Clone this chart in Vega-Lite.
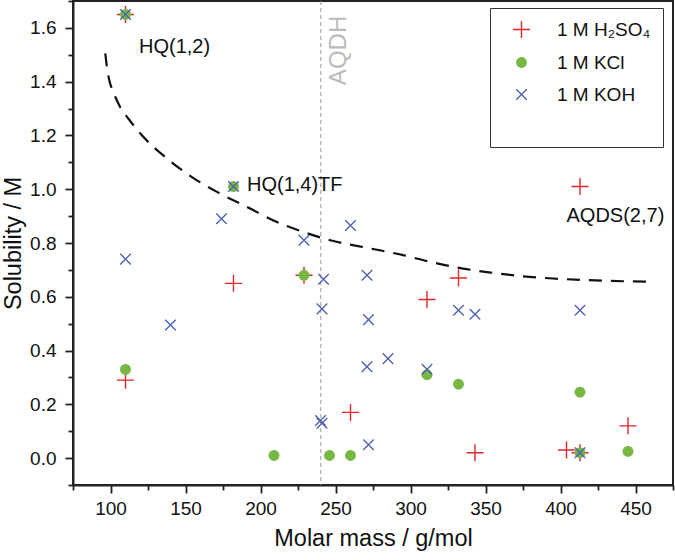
{
  "$schema": "https://vega.github.io/schema/vega-lite/v6.json",
  "width": 600,
  "height": 484,
  "autosize": {"type": "none"},
  "padding": {"left": 73, "top": 1, "right": 2, "bottom": 75},
  "background": "white",
  "config": {
    "font": "Liberation Sans",
    "view": {"stroke": "#222", "strokeWidth": 2},
    "axis": {
      "grid": false,
      "domainColor": "#222",
      "domainWidth": 2,
      "tickColor": "#222",
      "tickWidth": 1.8,
      "labelFont": "Liberation Sans",
      "labelFontSize": 19,
      "labelColor": "#111",
      "titleFont": "Liberation Sans",
      "titleFontSize": 23.5,
      "titleFontWeight": "normal",
      "titleColor": "#111"
    },
    "legend": {
      "labelFont": "Liberation Sans",
      "labelFontSize": 19,
      "labelColor": "#111",
      "titleFont": "Liberation Sans"
    }
  },
  "datasets": {
    "points": [
      {"mass": 110, "sol": 1.65, "series": "1 M H₂SO₄"},
      {"mass": 110, "sol": 0.29, "series": "1 M H₂SO₄"},
      {"mass": 182, "sol": 0.65, "series": "1 M H₂SO₄"},
      {"mass": 229, "sol": 0.68, "series": "1 M H₂SO₄"},
      {"mass": 260, "sol": 0.17, "series": "1 M H₂SO₄"},
      {"mass": 311, "sol": 0.59, "series": "1 M H₂SO₄"},
      {"mass": 332, "sol": 0.67, "series": "1 M H₂SO₄"},
      {"mass": 343, "sol": 0.02, "series": "1 M H₂SO₄"},
      {"mass": 404, "sol": 0.03, "series": "1 M H₂SO₄"},
      {"mass": 413, "sol": 1.01, "series": "1 M H₂SO₄"},
      {"mass": 413, "sol": 0.02, "series": "1 M H₂SO₄"},
      {"mass": 445, "sol": 0.12, "series": "1 M H₂SO₄"},
      {"mass": 110, "sol": 1.65, "series": "1 M KCl"},
      {"mass": 110, "sol": 0.33, "series": "1 M KCl"},
      {"mass": 182, "sol": 1.01, "series": "1 M KCl"},
      {"mass": 209, "sol": 0.01, "series": "1 M KCl"},
      {"mass": 229, "sol": 0.68, "series": "1 M KCl"},
      {"mass": 246, "sol": 0.01, "series": "1 M KCl"},
      {"mass": 260, "sol": 0.01, "series": "1 M KCl"},
      {"mass": 311, "sol": 0.31, "series": "1 M KCl"},
      {"mass": 332, "sol": 0.275, "series": "1 M KCl"},
      {"mass": 413, "sol": 0.245, "series": "1 M KCl"},
      {"mass": 413, "sol": 0.02, "series": "1 M KCl"},
      {"mass": 445, "sol": 0.025, "series": "1 M KCl"},
      {"mass": 110, "sol": 1.65, "series": "1 M KOH"},
      {"mass": 110, "sol": 0.74, "series": "1 M KOH"},
      {"mass": 140, "sol": 0.495, "series": "1 M KOH"},
      {"mass": 174, "sol": 0.89, "series": "1 M KOH"},
      {"mass": 182, "sol": 1.01, "series": "1 M KOH"},
      {"mass": 229, "sol": 0.81, "series": "1 M KOH"},
      {"mass": 242, "sol": 0.665, "series": "1 M KOH"},
      {"mass": 241, "sol": 0.555, "series": "1 M KOH"},
      {"mass": 240, "sol": 0.14, "series": "1 M KOH"},
      {"mass": 241, "sol": 0.13, "series": "1 M KOH"},
      {"mass": 260, "sol": 0.865, "series": "1 M KOH"},
      {"mass": 271, "sol": 0.68, "series": "1 M KOH"},
      {"mass": 272, "sol": 0.515, "series": "1 M KOH"},
      {"mass": 271, "sol": 0.34, "series": "1 M KOH"},
      {"mass": 285, "sol": 0.37, "series": "1 M KOH"},
      {"mass": 272, "sol": 0.05, "series": "1 M KOH"},
      {"mass": 311, "sol": 0.33, "series": "1 M KOH"},
      {"mass": 332, "sol": 0.55, "series": "1 M KOH"},
      {"mass": 343, "sol": 0.535, "series": "1 M KOH"},
      {"mass": 413, "sol": 0.55, "series": "1 M KOH"},
      {"mass": 413, "sol": 0.02, "series": "1 M KOH"}
    ],
    "curve": [
      {"mass": 96.5, "sol": 1.505},
      {"mass": 97.5, "sol": 1.46},
      {"mass": 99, "sol": 1.41},
      {"mass": 102, "sol": 1.36},
      {"mass": 106.5, "sol": 1.305},
      {"mass": 112, "sol": 1.262},
      {"mass": 122, "sol": 1.194},
      {"mass": 137.7, "sol": 1.114},
      {"mass": 154.3, "sol": 1.045},
      {"mass": 171, "sol": 0.99},
      {"mass": 191, "sol": 0.934},
      {"mass": 211, "sol": 0.878},
      {"mass": 228.7, "sol": 0.841},
      {"mass": 246.5, "sol": 0.81},
      {"mass": 273, "sol": 0.78},
      {"mass": 295, "sol": 0.755},
      {"mass": 313, "sol": 0.73},
      {"mass": 335, "sol": 0.705},
      {"mass": 355, "sol": 0.689},
      {"mass": 373, "sol": 0.677},
      {"mass": 395, "sol": 0.668},
      {"mass": 418, "sol": 0.662},
      {"mass": 457, "sol": 0.656}
    ],
    "labels": [
      {"mass": 119, "sol": 1.53, "label": "HQ(1,2)"},
      {"mass": 191, "sol": 1.015, "label": "HQ(1,4)TF"},
      {"mass": 404, "sol": 0.9, "label": "AQDS(2,7)"}
    ],
    "aqdh": [
      {"mass": 240.2, "sol": 1.645, "label": "AQDH", "lx": 252}
    ]
  },
  "layer": [
    {
      "data": {"name": "aqdh"},
      "mark": {"type": "rule", "color": "#9a9a9a", "strokeWidth": 1, "strokeDash": [4, 3]},
      "encoding": {
        "x": {"field": "mass", "type": "quantitative", "scale": {"domain": [75, 475], "nice": false, "zero": false}, "axis": null}
      }
    },
    {
      "data": {"name": "curve"},
      "mark": {"type": "line", "color": "#111", "strokeWidth": 2.2, "strokeDash": [13, 9], "interpolate": "monotone"},
      "encoding": {
        "x": {"field": "mass", "type": "quantitative", "scale": {"domain": [75, 475], "nice": false, "zero": false},
          "axis": {"orient": "bottom", "values": [75, 125, 175, 225, 275, 325, 375, 425, 475], "labels": false, "domain": false, "tickSize": 5, "title": null}},
        "y": {"field": "sol", "type": "quantitative", "scale": {"domain": [-0.1, 1.7], "nice": false, "zero": false},
          "axis": {"orient": "left", "values": [-0.1, 0.1, 0.3, 0.5, 0.7, 0.9, 1.1, 1.3, 1.5, 1.7], "labels": false, "domain": false, "tickSize": 5, "title": null}}
      }
    },
    {
      "data": {"name": "points"},
      "mark": {"type": "point", "filled": true, "strokeWidth": 1.4, "size": 289, "opacity": 1},
      "encoding": {
        "x": {"field": "mass", "type": "quantitative", "scale": {"domain": [75, 475], "nice": false, "zero": false},
          "axis": {"orient": "bottom", "values": [100, 150, 200, 250, 300, 350, 400, 450], "format": "d", "tickSize": 8, "labelPadding": 6, "titlePadding": 8, "title": "Molar mass / g/mol"}},
        "y": {"field": "sol", "type": "quantitative", "scale": {"domain": [-0.1, 1.7], "nice": false, "zero": false},
          "axis": {"orient": "left", "values": [0, 0.2, 0.4, 0.6, 0.8, 1.0, 1.2, 1.4, 1.6], "format": ".1f", "tickSize": 8, "labelPadding": 9, "titlePadding": 4, "title": "Solubility / M"}},
        "color": {"field": "series", "type": "nominal",
          "scale": {"domain": ["1 M H₂SO₄", "1 M KCl", "1 M KOH"], "range": ["#e3242b", "#77b843", "#5062b0"]},
          "legend": {"orient": "none", "legendX": 417, "legendY": 7, "title": " ", "titleOrient": "bottom", "titleFontSize": 24, "titlePadding": 6,
            "strokeColor": "#333", "padding": 12, "rowPadding": 12, "symbolOffset": 10, "labelOffset": 26, "symbolStrokeWidth": 1.4, "symbolSize": 289}},
        "stroke": {"field": "series", "type": "nominal",
          "scale": {"domain": ["1 M H₂SO₄", "1 M KCl", "1 M KOH"], "range": ["#e3242b", "#77b843", "#5062b0"]}},
        "shape": {"field": "series", "type": "nominal",
          "scale": {"domain": ["1 M H₂SO₄", "1 M KCl", "1 M KOH"], "range": ["M-1,0L1,0M0,-1L0,1", "M0.56,0A0.56,0.56,0,1,1,-0.56,0A0.56,0.56,0,1,1,0.56,0Z", "M-0.62,-0.62L0.62,0.62M-0.62,0.62L0.62,-0.62"]}}
      }
    },
    {
      "data": {"name": "labels"},
      "mark": {"type": "text", "align": "left", "baseline": "middle", "fontSize": 20, "color": "#111", "font": "Liberation Sans"},
      "encoding": {
        "x": {"field": "mass", "type": "quantitative", "scale": {"domain": [75, 475], "nice": false, "zero": false}, "axis": null},
        "y": {"field": "sol", "type": "quantitative", "scale": {"domain": [-0.1, 1.7], "nice": false, "zero": false}, "axis": null},
        "text": {"field": "label"}
      }
    },
    {
      "data": {"name": "aqdh"},
      "mark": {"type": "text", "align": "right", "baseline": "middle", "angle": 270, "fontSize": 24, "color": "#bbbbbb", "font": "Liberation Sans"},
      "encoding": {
        "x": {"field": "lx", "type": "quantitative", "scale": {"domain": [75, 475], "nice": false, "zero": false}, "axis": null},
        "y": {"field": "sol", "type": "quantitative", "scale": {"domain": [-0.1, 1.7], "nice": false, "zero": false}, "axis": null},
        "text": {"field": "label"}
      }
    }
  ],
  "resolve": {"axis": {"x": "independent", "y": "independent"}}
}
